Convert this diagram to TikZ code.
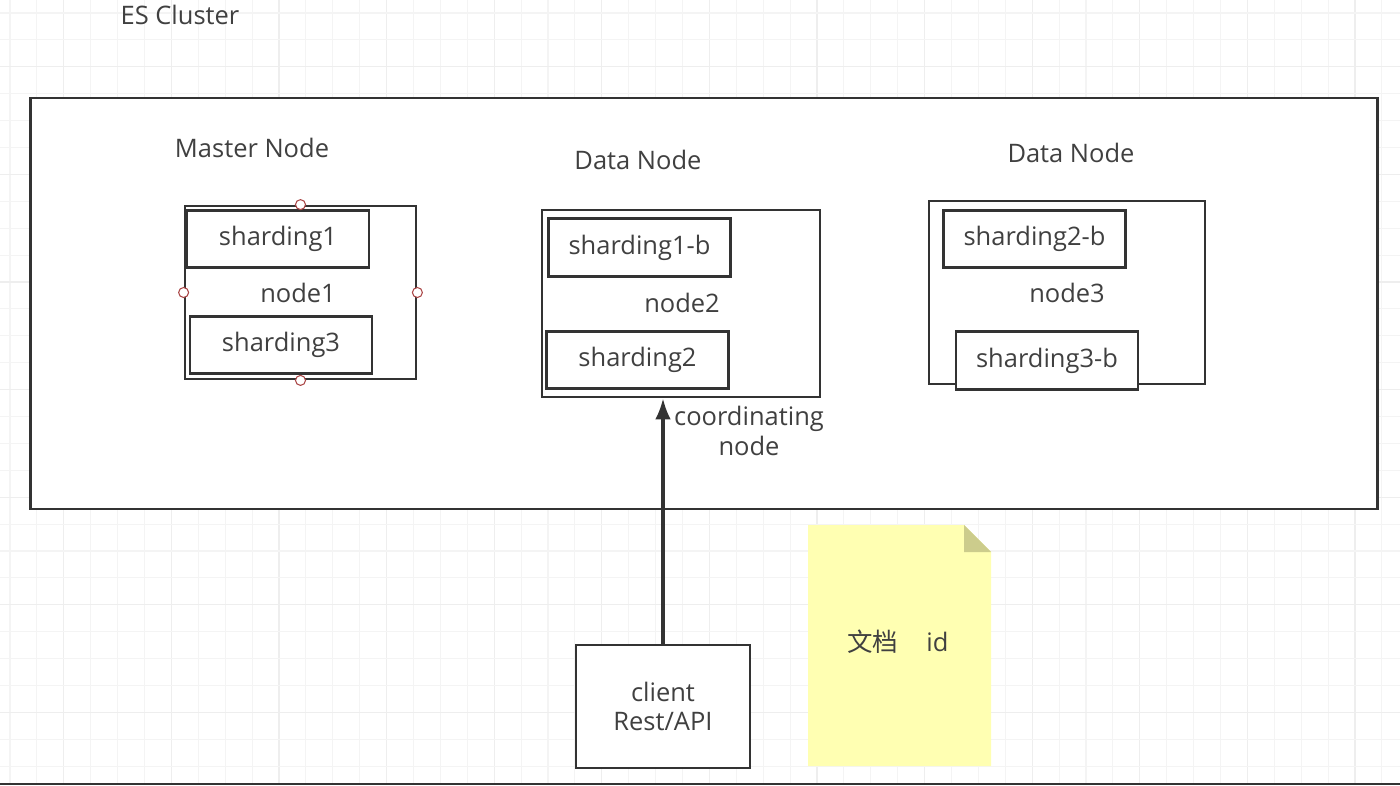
\documentclass[tikz,border=0pt]{standalone}
\usepackage{fontspec}
\setmainfont{Open Sans}
\newfontfamily\cjk{Noto Sans CJK SC}
\usepackage{xcolor}
\usepackage{tikz}
\usetikzlibrary{arrows.meta,calc,positioning}
\definecolor{ink}{RGB}{51,51,51}
\definecolor{txt}{RGB}{64,64,64}
\definecolor{handle}{RGB}{170,70,70}
\definecolor{notey}{RGB}{255,255,178}
\definecolor{notefold}{RGB}{204,204,140}
\tikzset{
  box/.style={draw=ink,line width=1.6pt,fill=white,inner sep=0pt},
  shard/.style={box,minimum width=3.64cm,minimum height=1.15cm,text=txt,font=\fontsize{14.5}{17}\selectfont},
  lbl/.style={text=txt,font=\fontsize{14.5}{17}\selectfont,inner sep=1pt},
  knob/.style={draw=handle,fill=white,line width=0.6pt}
}

\begin{document}
\begin{tikzpicture}[x=0.02cm,y=-0.02cm]
  \useasboundingbox (0,0) rectangle (1400,785);
  \fill[white] (0,0) rectangle (1400,785);
  % grid
  \foreach \k in {0,...,51} {\pgfmathtruncatemacro{\r}{mod(\k,4)} \ifnum\r=2 \draw[gray!13,line width=0.6pt] (10+26.9*\k,0) -- (10+26.9*\k,785); \else \draw[gray!9,line width=0.6pt] (10+26.9*\k,0) -- (10+26.9*\k,785); \fi}
  \foreach \k in {0,...,28} {\pgfmathtruncatemacro{\r}{mod(\k,4)} \ifnum\r=2 \draw[gray!13,line width=0.6pt] (0,13+26.9*\k) -- (1400,13+26.9*\k); \else \draw[gray!9,line width=0.6pt] (0,13+26.9*\k) -- (1400,13+26.9*\k); \fi}
  \draw[ink,line width=1.2pt] (0,784) -- (1400,784);

  \node[lbl] (title) at (180,15) {ES Cluster};
  \node[box,minimum width=26.96cm,minimum height=8.22cm] (cluster) at (704,303.5) {};

  % master node
  \node[lbl] (mlab) at (252,148) {Master Node};
  \node[box,minimum width=4.62cm,minimum height=3.46cm] (n1) at (300.5,292.5) {};
  \node[shard] (s1) at (278,239) {sharding1};
  \node[shard] (s3) at (281,345) {sharding3};
  \node[lbl] (n1lab) at (298,293) {node1};
  \foreach \a in {north,south,east,west} \draw[knob] (n1.\a) circle (5);

  % data nodes
  \node[lbl] (d2lab) at (638,160) {Data Node};
  \node[box,minimum width=5.56cm,minimum height=3.74cm] (n2) at (681,303.5) {};
  \node[shard] (s1b) at (639.5,247.5) {sharding1-b};
  \node[shard] (s2) at (637.5,360) {sharding2};
  \node[lbl] (n2lab) at (682,303) {node2};

  \node[lbl] (d3lab) at (1071,153) {Data Node};
  \node[box,minimum width=5.52cm,minimum height=3.66cm] (n3) at (1067,292.5) {};
  \node[shard] (s2b) at (1034.5,239) {sharding2-b};
  \node[shard] (s3b) at (1047,360.5) {sharding3-b};
  \node[lbl] (n3lab) at (1067,293) {node3};

  % client
  \node[box,minimum width=3.48cm,minimum height=2.46cm,align=center,text=txt,font=\fontsize{14.5}{17}\selectfont] (client) at (663,706.5) {client\\Rest/API};
  \draw[ink,line width=1.8pt,-{Latex[length=12pt,width=9pt]}] (client.north) -- (client.north |- n2.south);
  \node[lbl,align=center] (coord) at (749,431) {coordinating\\node};

  % note
  \fill[notey] (808,525) -- (964,525) -- (991,552) -- (991,766) -- (808,766) -- cycle;
  \fill[notefold] (964,525) -- (991,552) -- (964,552) -- cycle;
  \node[lbl] (doc) at (898,642) {{\cjk 文档}\hspace{1.1em}id};
\end{tikzpicture}
\end{document}
